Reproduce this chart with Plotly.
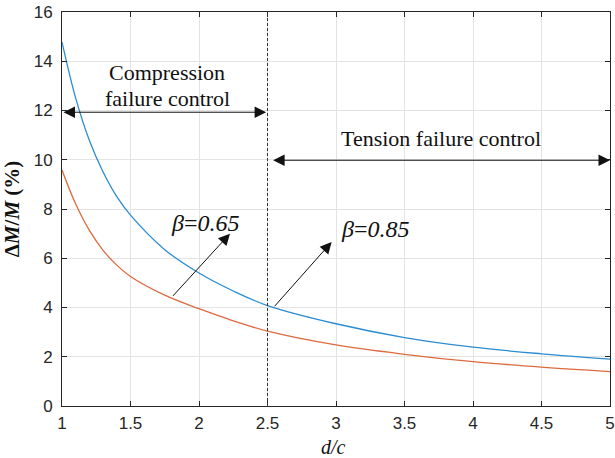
import plotly.graph_objects as go

# d/c sample points and the moment increase dM/M (%) for each beta
dc = [1.0, 1.1, 1.2, 1.3, 1.4, 1.5, 1.75, 2.0, 2.25, 2.5, 3.0, 3.5, 4.0, 4.5, 5.0]
dm_beta085 = [14.78, 12.5, 10.78, 9.5, 8.5, 7.75, 6.35, 5.4, 4.67, 4.08, 3.34, 2.78, 2.39, 2.12, 1.90]
dm_beta065 = [9.58, 8.2, 7.13, 6.32, 5.72, 5.26, 4.5, 3.95, 3.46, 3.04, 2.48, 2.10, 1.80, 1.58, 1.40]

x_ticks = [1, 1.5, 2, 2.5, 3, 3.5, 4, 4.5, 5]
y_ticks = [0, 2, 4, 6, 8, 10, 12, 14, 16]

BLUE = "#2b8cd1"
ORANGE = "#dd6a3e"
AXIS = "#262626"
SERIF = "Liberation Serif, Times New Roman, serif"
SANS = "Liberation Sans, Arial, sans-serif"

fig = go.Figure()
fig.add_trace(go.Scatter(x=dc, y=dm_beta085, mode="lines", name="β=0.85",
                         line=dict(color=BLUE, width=1.3, shape="spline", smoothing=1.0)))
fig.add_trace(go.Scatter(x=dc, y=dm_beta065, mode="lines", name="β=0.65",
                         line=dict(color=ORANGE, width=1.3, shape="spline", smoothing=1.0)))

# boundary between compression- and tension-controlled failure
fig.add_shape(type="line", x0=2.5, x1=2.5, y0=0, y1=16, xref="x", yref="y",
              line=dict(color="#333333", width=1, dash="3px,2px"))

def arrow(x_head, y_head, x_tail, y_tail, both=False):
    fig.add_annotation(x=x_head, y=y_head, ax=x_tail, ay=y_tail,
                       xref="x", yref="y", axref="x", ayref="y",
                       text="", showarrow=True, arrowhead=2, startarrowhead=2,
                       arrowsize=2.3, startarrowsize=2.3, arrowwidth=1,
                       arrowcolor="#111111", standoff=0, startstandoff=0,
                       arrowside="end+start" if both else "end")

arrow(2.49, 11.93, 1.0, 11.93, both=True)
arrow(5.0, 9.98, 2.53, 9.98, both=True)
arrow(2.226, 7.0, 1.80, 4.41)
arrow(2.968, 6.66, 2.542, 3.99)

def label(x, y, text, size=22):
    fig.add_annotation(x=x, y=y, xref="x", yref="y", text=text, showarrow=False,
                       font=dict(family=SERIF, size=size, color="#111111"),
                       xanchor="center", yanchor="middle")

label(1.77, 13.55, "Compression")
label(1.77, 12.5, "failure control")
label(3.77, 10.85, "Tension failure control")
label(2.05, 7.45, "<i>β</i>=<i>0.65</i>", size=24)
label(3.285, 7.17, "<i>β</i>=<i>0.85</i>", size=24)

# x-axis title placed at the very bottom of the figure
fig.add_annotation(x=0.495, y=-0.132, xref="paper", yref="paper", text="<i>d/c</i>",
                   showarrow=False, xanchor="center", yanchor="bottom",
                   borderpad=0, yshift=-1,
                   font=dict(family=SERIF, size=20, color="#111111"))

axis_common = dict(
    showline=True, linecolor=AXIS, linewidth=1, mirror="ticks",
    ticks="inside", ticklen=5, tickcolor=AXIS, tickwidth=1,
    showgrid=True, gridcolor="#e3e3e3", gridwidth=1, zeroline=False,
    tickfont=dict(family=SANS, size=17, color=AXIS), automargin=False,
)

fig.update_xaxes(range=[1, 5], tickvals=x_ticks, ticktext=[f"{v:g}" for v in x_ticks],
                 ticklabelstandoff=2, **axis_common)
fig.update_yaxes(range=[0, 16], tickvals=y_ticks, ticktext=[str(v) for v in y_ticks],
                 ticklabelstandoff=5,
                 title=dict(text="<b>Δ<i>M</i>/<i>M</i> (%)</b>",
                            font=dict(family=SERIF, size=21, color="#111111"), standoff=8),
                 **axis_common)

fig.update_layout(
    width=615, height=458,
    margin=dict(l=62, r=5, t=12, b=52),
    plot_bgcolor="white", paper_bgcolor="white",
    showlegend=False,
)

fig.write_html("out.html")
